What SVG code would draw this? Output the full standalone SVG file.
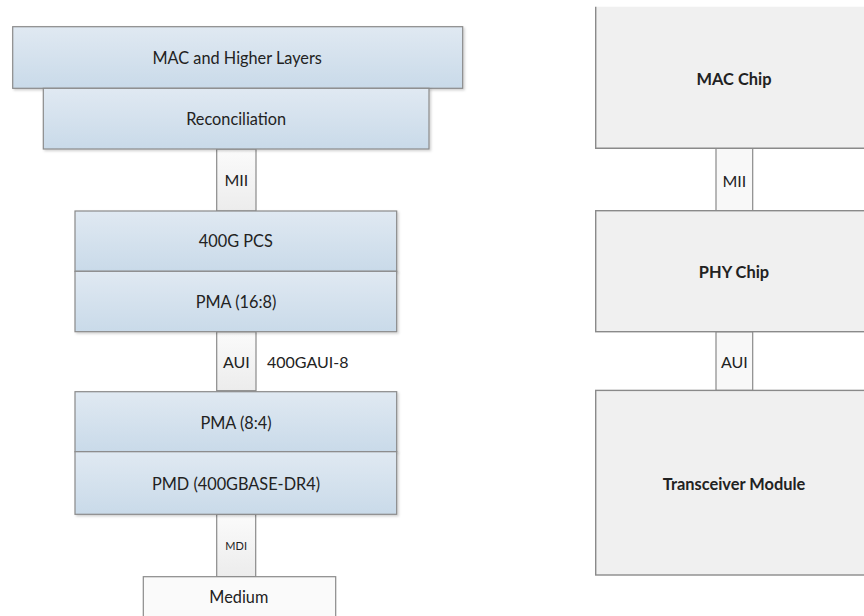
<svg xmlns="http://www.w3.org/2000/svg" width="864" height="616" viewBox="0 0 864 616">
  <defs>
    <linearGradient id="layerFill" x1="0" y1="0" x2="0" y2="1">
      <stop offset="0" stop-color="#e0e9f2"/>
      <stop offset="1" stop-color="#c9dae9"/>
    </linearGradient>
    <linearGradient id="linkFill" x1="0" y1="0" x2="0" y2="1">
      <stop offset="0" stop-color="#fbfbfb"/>
      <stop offset="1" stop-color="#ececec"/>
    </linearGradient>
    <filter id="shadow" x="-5%" y="-5%" width="110%" height="120%">
      <feDropShadow dx="1.5" dy="1.5" stdDeviation="1" flood-color="#000" flood-opacity="0.18"/>
    </filter>
  </defs>
  <style>
    .layer { fill: url(#layerFill); stroke: #8a8a8a; stroke-width: 1.2; filter: url(#shadow); }
    .link { fill: url(#linkFill); stroke: #8a8a8a; stroke-width: 1.2; }
    .chip { fill: #f0f0f0; stroke: #8a8a8a; stroke-width: 1.4; }
    .chiplink { fill: #f8f8f8; stroke: #8a8a8a; stroke-width: 1.2; }
    .medium { fill: #fafafa; stroke: #8a8a8a; stroke-width: 1.2; }
    text { font-family: Lato, "Open Sans", "Liberation Sans", sans-serif; fill: #222; text-anchor: middle; dominant-baseline: central; }
    .t { font-size: 16.3px; }
    .s { font-size: 16px; }
    .xs { font-size: 11px; }
    .b { font-size: 16.4px; font-weight: bold; }
  </style>

  <rect width="864" height="616" fill="#ffffff"/>

  <!-- interface links between layers -->
  <g id="connectors">
    <rect class="link" x="216.7" y="149" width="39.3" height="62"/>
    <text class="s" x="236.3" y="179">MII</text>
    <rect class="link" x="216.7" y="331.7" width="39.3" height="59"/>
    <text class="s" x="236.3" y="361.5">AUI</text>
    <text class="s" x="267" y="361.5" style="text-anchor:start">400GAUI-8</text>
    <rect class="link" x="216.7" y="514.3" width="39" height="62.4"/>
    <text class="xs" x="236.2" y="545.5">MDI</text>

    <rect class="chiplink" x="716" y="148.3" width="36.7" height="62.4"/>
    <text class="s" x="734.3" y="180.7">MII</text>
    <rect class="chiplink" x="716" y="331.7" width="36.7" height="58.7"/>
    <text class="s" x="734.3" y="361.7">AUI</text>
  </g>

  <!-- protocol stack -->
  <g id="mac-higher">
    <rect class="layer" x="12.7" y="26.7" width="450" height="61.6"/>
    <text class="t" x="237.2" y="57">MAC and Higher Layers</text>
  </g>
  <g id="reconciliation">
    <rect class="layer" x="43.3" y="88.3" width="385.7" height="60.7"/>
    <text class="t" x="236.2" y="118.5">Reconciliation</text>
  </g>
  <g id="pcs-400g">
    <rect class="layer" x="75" y="211" width="321.7" height="60.3"/>
    <text class="t" x="235.8" y="240.3">400G PCS</text>
  </g>
  <g id="pma-16-8">
    <rect class="layer" x="75" y="271.3" width="321.7" height="60.4"/>
    <text class="t" x="236" y="301.7">PMA (16:8)</text>
  </g>
  <g id="pma-8-4">
    <rect class="layer" x="75" y="391.7" width="321.7" height="60"/>
    <text class="t" x="236" y="422.7">PMA (8:4)</text>
  </g>
  <g id="pmd-dr4">
    <rect class="layer" x="75" y="451.7" width="321.7" height="62.6"/>
    <text class="t" x="236" y="483">PMD (400GBASE-DR4)</text>
  </g>
  <g id="medium">
    <rect class="medium" x="143.3" y="576.7" width="192.4" height="50"/>
    <text class="t" x="238.8" y="596.7">Medium</text>
  </g>

  <!-- physical implementation -->
  <g id="mac-chip">
    <rect x="595.7" y="6.7" width="280" height="141.6" fill="#f0f0f0"/>
    <path d="M595.7 6.7 V148.3 H875" fill="none" stroke="#8a8a8a" stroke-width="1.4"/>
    <text class="b" x="734" y="78.3">MAC Chip</text>
  </g>
  <g id="phy-chip">
    <rect class="chip" x="595.7" y="210.7" width="280" height="121"/>
    <text class="b" x="734" y="271.7">PHY Chip</text>
  </g>
  <g id="transceiver">
    <rect class="chip" x="595.7" y="390.4" width="280" height="184.6"/>
    <text class="b" x="734" y="483.3">Transceiver Module</text>
  </g>
</svg>
